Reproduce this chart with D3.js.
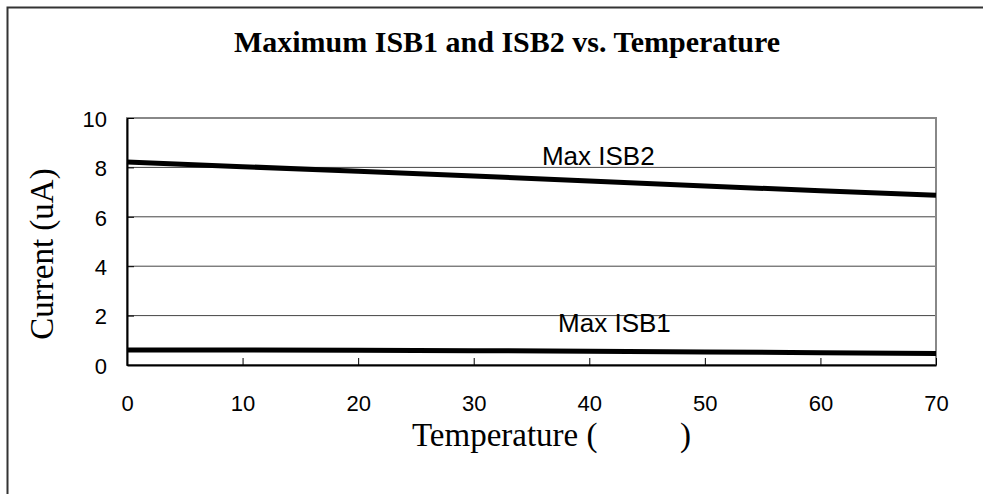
<!DOCTYPE html>
<html>
<head>
<meta charset="utf-8">
<script src="https://cdn.jsdelivr.net/npm/d3@7"></script>
<style>
  html, body { margin: 0; padding: 0; background: #fff; }
  svg { display: block; }
</style>
</head>
<body>
<svg id="chart" width="983" height="494"></svg>
<script>
const temperatures = [0, 10, 20, 30, 40, 50, 60, 70];
const maxISB2 = [8.22, 8.03, 7.84, 7.65, 7.45, 7.25, 7.05, 6.87];
const maxISB1 = [0.61, 0.61, 0.60, 0.58, 0.56, 0.53, 0.50, 0.47];
const xTicks = [0, 10, 20, 30, 40, 50, 60, 70];
const yTicks = [0, 2, 4, 6, 8, 10];
const seriesNames = ["Max ISB2", "Max ISB1"];
const titleText = "Maximum ISB1 and ISB2 vs. Temperature";
const xLabel = "Temperature (\u2003\u2003\u2002)";
const yLabel = "Current (uA)";

const svg = d3.select("#chart");
const L = 127, R = 936, T = 118, B = 365;
const x = d3.scaleLinear().domain([0, 70]).range([L, R]);
const y = d3.scaleLinear().domain([0, 10]).range([B, T]);

// outer frame
svg.append("path").attr("d", "M7.5,500V7.5H995")
  .attr("fill", "none").attr("stroke", "#333").attr("stroke-width", 2);

// title
svg.append("text").attr("x", 507).attr("y", 52).attr("text-anchor", "middle")
  .attr("font-family", "'Liberation Serif','Times New Roman',serif")
  .attr("font-weight", "bold").attr("font-size", 30).attr("fill", "#000")
  .text(titleText);

// gridlines
svg.append("g").selectAll("line").data(yTicks.filter(d => d > 0 && d < 10)).join("line")
  .attr("x1", L).attr("x2", R).attr("y1", d => y(d)).attr("y2", d => y(d))
  .attr("stroke", "#444").attr("stroke-width", 1);

// plot border (gray)
svg.append("rect").attr("x", L).attr("y", T).attr("width", R - L).attr("height", B - T)
  .attr("fill", "none").attr("stroke", "#888").attr("stroke-width", 2);

// axes
const xAxis = d3.axisBottom(x).tickValues(xTicks).tickSizeInner(-7).tickSizeOuter(0).tickPadding(30);
const gx = svg.append("g").attr("transform", `translate(0,${B})`).call(xAxis);
gx.select(".domain").attr("stroke", "#000").attr("stroke-width", 2);
gx.selectAll(".tick line").attr("stroke", "#000");
gx.selectAll(".tick text").attr("font-family", "'Liberation Sans',Arial,sans-serif")
  .attr("font-size", 22).attr("fill", "#000").attr("dy", "0.71em");

const yAxis = d3.axisLeft(y).tickValues(yTicks).tickSizeInner(-7).tickSizeOuter(0).tickPadding(20);
const gy = svg.append("g").attr("transform", `translate(${L},0)`).call(yAxis);
gy.select(".domain").attr("stroke", "#000").attr("stroke-width", 2);
gy.selectAll(".tick line").attr("stroke", "#000");
gy.selectAll(".tick text").attr("font-family", "'Liberation Sans',Arial,sans-serif")
  .attr("font-size", 22).attr("fill", "#000").attr("dy", "0.38em");

// axis titles
svg.append("text").attr("transform", "translate(53,254) rotate(-90)")
  .attr("text-anchor", "middle")
  .attr("font-family", "'Liberation Serif','Times New Roman',serif")
  .attr("font-size", 33).attr("fill", "#000").text(yLabel);

svg.append("text").attr("x", 412).attr("y", 446)
  .attr("font-family", "'Liberation Serif','Times New Roman',serif")
  .attr("font-size", 33).attr("fill", "#000")
  .style("white-space", "pre").text(xLabel);

// lines
const line = d3.line().x((d, i) => x(temperatures[i])).y(d => y(d));
[maxISB2, maxISB1].forEach(vals => {
  svg.append("path").datum(vals).attr("d", line)
    .attr("fill", "none").attr("stroke", "#000").attr("stroke-width", 5);
});

// series labels
const labelPos = [{t: 35.9, v: 8.08}, {t: 37.3, v: 1.35}];
seriesNames.forEach((name, i) => {
  svg.append("text").attr("x", x(labelPos[i].t)).attr("y", y(labelPos[i].v))
    .attr("font-family", "'Liberation Sans',Arial,sans-serif")
    .attr("font-size", 26).attr("fill", "#000").text(name);
});
</script>
</body>
</html>
